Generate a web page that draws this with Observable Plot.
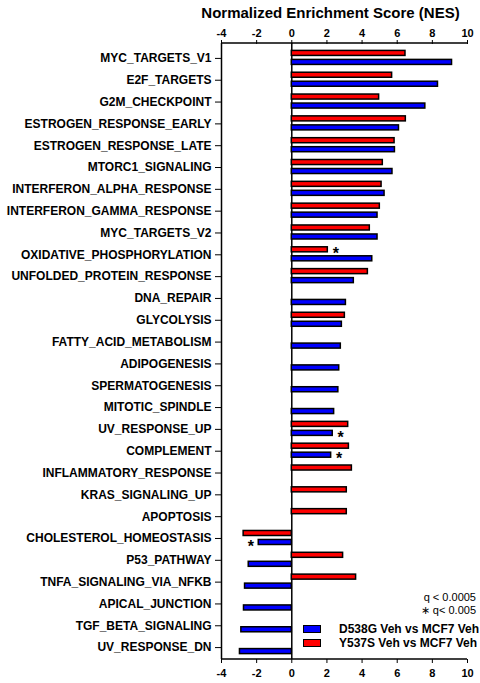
<!DOCTYPE html>
<html>
<head>
<meta charset="utf-8">
<script src="https://cdn.jsdelivr.net/npm/d3@7"></script>
<script src="https://cdn.jsdelivr.net/npm/@observablehq/plot@0.6"></script>
<style>
  body { margin: 0; background: #fff; font-family: "Liberation Sans", Arial, sans-serif; }
  #chart { position: relative; width: 480px; height: 683px; }
  .qnote { position: absolute; right: 4px; top: 591px; text-align: right; font-size: 11px; line-height: 13px; color: #000; }
  .key { position: absolute; left: 303px; height: 14px; line-height: 14px; font-size: 12px; font-weight: bold; white-space: nowrap; color: #000; }
  .key i { display: inline-block; width: 16px; height: 6px; border: 1px solid #000; vertical-align: middle; margin-right: 18px; position: relative; top: -1px; }
</style>
</head>
<body>
<div id="chart"></div>
<script>
// Hallmark gene sets, top to bottom
const pathways = [
  "MYC_TARGETS_V1", "E2F_TARGETS", "G2M_CHECKPOINT", "ESTROGEN_RESPONSE_EARLY",
  "ESTROGEN_RESPONSE_LATE", "MTORC1_SIGNALING", "INTERFERON_ALPHA_RESPONSE",
  "INTERFERON_GAMMA_RESPONSE", "MYC_TARGETS_V2", "OXIDATIVE_PHOSPHORYLATION",
  "UNFOLDED_PROTEIN_RESPONSE", "DNA_REPAIR", "GLYCOLYSIS", "FATTY_ACID_METABOLISM",
  "ADIPOGENESIS", "SPERMATOGENESIS", "MITOTIC_SPINDLE", "UV_RESPONSE_UP",
  "COMPLEMENT", "INFLAMMATORY_RESPONSE", "KRAS_SIGNALING_UP", "APOPTOSIS",
  "CHOLESTEROL_HOMEOSTASIS", "P53_PATHWAY", "TNFA_SIGNALING_VIA_NFKB",
  "APICAL_JUNCTION", "TGF_BETA_SIGNALING", "UV_RESPONSE_DN"
];

// NES, Y537S Veh vs MCF7 Veh (null = not enriched)
const nesY537S = [
  6.47, 5.71, 4.97, 6.49, 5.85, 5.18, 5.11, 5.01, 4.44, 2.05,
  4.33, null, 3.02, null, null, null, null, 3.21, 3.25, 3.42,
  3.13, 3.13, -2.74, 2.92, 3.66, null, null, null
];

// NES, D538G Veh vs MCF7 Veh (null = not enriched)
const nesD538G = [
  9.12, 8.32, 7.60, 6.10, 5.87, 5.73, 5.28, 4.88, 4.88, 4.58,
  3.53, 3.08, 2.85, 2.79, 2.70, 2.65, 2.41, 2.33, 2.24, null,
  null, null, -1.88, -2.45, -2.66, -2.72, -2.87, -2.95
];

// Gene sets with q < 0.005 (asterisk) rather than q < 0.0005
const sigY537S = ["OXIDATIVE_PHOSPHORYLATION"];
const sigD538G = ["UV_RESPONSE_UP", "COMPLEMENT", "CHOLESTEROL_HOMEOSTASIS"];

const seriesNames = ["D538G Veh vs MCF7 Veh", "Y537S Veh vs MCF7 Veh"];
const seriesColors = ["#0000ff", "#ff0000"];
const xTicks = [-4, -2, 0, 2, 4, 6, 8, 10];
const title = "Normalized Enrichment Score (NES)";

const rowsOf = (values, sig) =>
  pathways.map((pathway, i) => ({pathway, nes: values[i], sig: sig.includes(pathway)}))
          .filter(d => d.nes != null);
const red = rowsOf(nesY537S, sigY537S);
const blue = rowsOf(nesD538G, sigD538G);

const barStyle = {x: "nes", y: "pathway", stroke: "#000", strokeWidth: 1.5};
const star = (rows, dy) => [
  Plot.text(rows.filter(d => d.sig && d.nes > 0), {x: "nes", y: "pathway", text: () => "*", dx: 8, dy, fontSize: 16}),
  Plot.text(rows.filter(d => d.sig && d.nes < 0), {x: "nes", y: "pathway", text: () => "*", dx: -8, dy, fontSize: 16})
];

// Horizontal axis lines along the top and bottom of the frame, spanning the x domain
function axisLines(index, {x}, values, {height, marginTop, marginBottom}) {
  const [x0, x1] = x.domain().map(x);
  const g = d3.create("svg:g").attr("stroke", "#000").attr("stroke-width", 1.5);
  for (const yy of [marginTop, height - marginBottom]) {
    g.append("line").attr("x1", x0).attr("x2", x1).attr("y1", yy).attr("y2", yy);
  }
  return g.node();
}

const plot = Plot.plot({
  width: 480,
  height: 683,
  marginTop: 43,
  marginBottom: 24,
  marginLeft: 221,
  marginRight: 13,
  style: {fontFamily: "'Liberation Sans', Arial, sans-serif", fontWeight: "bold", fontSize: "12px", background: "#fff"},
  x: {domain: [-4, 10]},
  y: {domain: pathways, range: [47, 658], padding: 0, round: false},
  marks: [
    axisLines,
    Plot.ruleX([-4], {strokeWidth: 1.5}),
    Plot.ruleX([0], {strokeWidth: 1.5}),
    Plot.barX(red, {...barStyle, fill: seriesColors[1], insetTop: 3.4, insetBottom: 13.4}),
    Plot.barX(blue, {...barStyle, fill: seriesColors[0], insetTop: 12.4, insetBottom: 4.4}),
    ...star(red, -1),
    ...star(blue, 8),
    Plot.axisX({anchor: "top", ticks: xTicks, tickFormat: d => `${d}`, tickSize: 4, tickPadding: 3, label: null, fontSize: 11}),
    Plot.axisX({anchor: "bottom", ticks: xTicks, tickFormat: d => `${d}`, tickSize: 4, tickPadding: 6, label: null, fontSize: 11}),
    Plot.axisY({anchor: "left", tickSize: 6, tickPadding: 4, label: null, fontSize: 12}),
    Plot.text([title], {frameAnchor: "top", lineAnchor: "middle", dy: -30, dx: -14, fontSize: 15, fontWeight: "bold"})
  ]
});

const chart = document.getElementById("chart");
chart.appendChild(plot);

// Significance note and series key
const note = document.createElement("div");
note.className = "qnote";
note.innerHTML = "q &lt; 0.0005<br>&#8727; q&lt; 0.005";
chart.appendChild(note);

seriesNames.forEach((name, i) => {
  const key = document.createElement("div");
  key.className = "key";
  key.style.top = (622 + i * 14) + "px";
  const sw = document.createElement("i");
  sw.style.background = seriesColors[i];
  key.appendChild(sw);
  key.appendChild(document.createTextNode(name));
  chart.appendChild(key);
});
</script>
</body>
</html>
